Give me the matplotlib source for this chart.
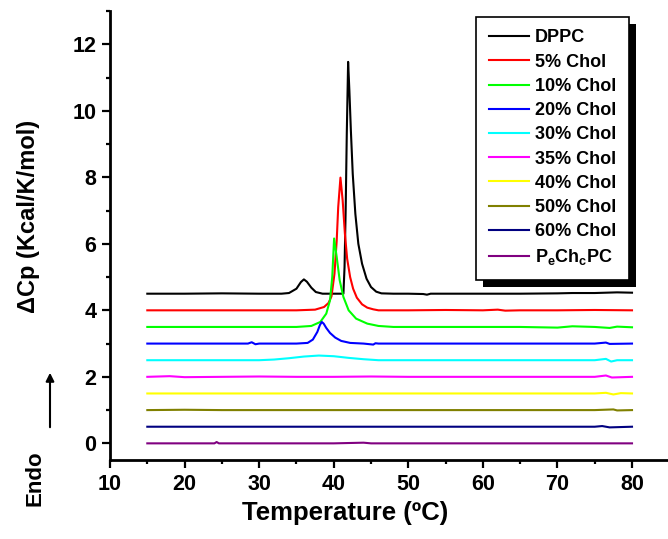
import matplotlib
matplotlib.use("Agg")
import matplotlib.pyplot as plt
from matplotlib.ticker import MultipleLocator
from matplotlib.patches import Rectangle

plt.rcParams['font.family'] = ['Liberation Sans', 'DejaVu Sans']
plt.rcParams['font.weight'] = 'bold'
plt.rcParams['mathtext.fontset'] = 'custom'
plt.rcParams['mathtext.rm'] = 'Liberation Sans:bold'
plt.rcParams['mathtext.bf'] = 'Liberation Sans:bold'

# DSC traces (offsets included)
t_dppc = [15, 20, 25, 30, 33, 34, 35, 35.6, 36.0, 36.4, 37.0, 37.6, 38.5, 40, 41.3, 41.45, 41.6,
          41.75, 41.93, 42.1, 42.3, 42.55, 42.9, 43.3, 43.8, 44.4, 45.0, 45.7, 46.4, 48, 50, 52,
          52.5, 53, 55, 60, 65, 70, 72, 75, 78, 80]
cp_dppc = [4.5, 4.5, 4.51, 4.5, 4.5, 4.52, 4.65, 4.85, 4.93, 4.86, 4.68, 4.55, 4.5, 4.5, 4.5, 5.3, 7.0,
           9.3, 11.47, 10.6, 9.4, 8.1, 6.9, 6.0, 5.4, 4.95, 4.7, 4.56, 4.51, 4.5, 4.5, 4.49,
           4.47, 4.5, 4.5, 4.5, 4.5, 4.51, 4.52, 4.52, 4.54, 4.53]

t_5 = [15, 20, 25, 30, 35, 37.5, 38.7, 39.3, 39.7, 40.1, 40.4, 40.6, 40.9, 41.2, 41.5, 41.8, 42.2,
       42.6, 43.1, 43.8, 44.5, 45.3, 46, 50, 55, 60, 62, 63, 65, 70, 75, 80]
cp_5 = [4.0, 4.0, 4.0, 4.0, 4.0, 4.02, 4.1, 4.22, 4.42, 5.1, 6.1, 7.1, 7.99, 7.3, 6.3, 5.55, 5.0,
        4.65, 4.38, 4.18, 4.08, 4.03, 4.0, 4.0, 4.01, 4.0, 4.02, 3.99, 4.0, 4.0, 4.01, 4.0]

t_10 = [15, 20, 25, 30, 35, 37, 38.2, 39.0, 39.5, 39.8, 40.05, 40.4, 40.8, 41.3, 42.0, 43.0, 44.5,
        46, 48, 55, 60, 65, 70, 72, 75, 77, 78, 80]
cp_10 = [3.5, 3.5, 3.5, 3.5, 3.5, 3.53, 3.65, 3.9, 4.3, 5.0, 6.16, 5.6, 4.9, 4.4, 4.0, 3.75, 3.6,
         3.53, 3.5, 3.5, 3.5, 3.5, 3.48, 3.52, 3.5, 3.47, 3.51, 3.49]

t_20 = [15, 20, 25, 28.5, 29, 29.5, 30, 33, 35, 36.5, 37.2, 37.8, 38.15, 38.4, 38.65, 39.0, 39.5,
        40.2, 41.0, 42.2, 44, 45.3, 45.6, 46, 50, 55, 60, 65, 70, 75, 76.5, 77, 80]
cp_20 = [3.0, 3.0, 3.0, 3.0, 3.04, 2.98, 3.0, 3.0, 3.0, 3.02, 3.12, 3.35, 3.56, 3.65, 3.6, 3.47, 3.32,
         3.18, 3.08, 3.02, 3.0, 2.97, 3.01, 3.0, 3.0, 3.0, 3.0, 3.0, 3.0, 3.0, 3.03, 2.99, 3.0]

t_30 = [15, 20, 25, 30, 32, 34, 36, 38, 40, 42, 44, 46, 50, 55, 60, 65, 70, 75, 76.5, 77.2, 78, 80]
cp_30 = [2.5, 2.5, 2.5, 2.5, 2.52, 2.56, 2.61, 2.64, 2.62, 2.57, 2.53, 2.5, 2.5, 2.5, 2.5, 2.5, 2.5,
         2.5, 2.54, 2.46, 2.5, 2.5]

t_35 = [15, 18, 20, 25, 30, 35, 40, 45, 50, 55, 60, 65, 70, 75, 76.5, 77.3, 80]
cp_35 = [2.0, 2.02, 1.99, 2.0, 2.01, 2.0, 2.0, 2.01, 2.0, 2.0, 2.0, 2.0, 2.0, 2.0, 2.04, 1.98, 2.0]

t_40 = [15, 20, 25, 30, 35, 40, 45, 50, 55, 60, 65, 70, 75, 76.5, 77.5, 78.5, 80]
cp_40 = [1.5, 1.5, 1.5, 1.5, 1.5, 1.5, 1.5, 1.5, 1.5, 1.5, 1.5, 1.5, 1.5, 1.52, 1.47, 1.51, 1.5]

t_50 = [15, 20, 25, 30, 35, 40, 45, 50, 55, 60, 65, 70, 75, 77.5, 78, 80]
cp_50 = [1.0, 1.01, 1.0, 1.0, 1.0, 1.0, 1.0, 1.0, 1.0, 1.0, 1.0, 1.0, 1.0, 1.02, 0.99, 1.0]

t_60 = [15, 20, 25, 30, 35, 40, 45, 50, 55, 60, 65, 70, 75, 76, 77, 80]
cp_60 = [0.5, 0.5, 0.5, 0.5, 0.5, 0.5, 0.5, 0.5, 0.5, 0.5, 0.5, 0.5, 0.5, 0.52, 0.48, 0.5]

t_pc = [15, 20, 24, 24.3, 24.6, 30, 35, 40, 44, 45, 50, 55, 60, 65, 70, 75, 80]
cp_pc = [0.0, 0.0, 0.0, 0.04, 0.0, 0.0, 0.0, 0.0, 0.02, 0.0, 0.0, 0.0, 0.0, 0.0, 0.0, 0.0, 0.0]

labels = ['DPPC', '5% Chol', '10% Chol', '20% Chol', '30% Chol', '35% Chol', '40% Chol',
          '50% Chol', '60% Chol', r'P$_{\mathrm{e}}$Ch$_{\mathrm{c}}$PC']
colors = ['#000000', '#ff0000', '#00ff00', '#0000ff', '#00ffff', '#ff00ff', '#ffff00',
          '#808000', '#000080', '#800080']
temps = [t_dppc, t_5, t_10, t_20, t_30, t_35, t_40, t_50, t_60, t_pc]
cps = [cp_dppc, cp_5, cp_10, cp_20, cp_30, cp_35, cp_40, cp_50, cp_60, cp_pc]

fig = plt.figure(figsize=(6.68, 5.39), dpi=100)
ax = fig.add_axes([0.1647, 0.1466, 0.835, 0.833])

for t, c, lab, col in zip(temps, cps, labels, colors):
    ax.plot(t, c, color=col, lw=1.5, label=lab)

ax.set_xlim(10, 84.8)
ax.set_ylim(-0.5, 13.0)
ax.xaxis.set_major_locator(MultipleLocator(10))
ax.xaxis.set_minor_locator(MultipleLocator(5))
ax.yaxis.set_major_locator(MultipleLocator(2))
ax.yaxis.set_minor_locator(MultipleLocator(1))

ax.spines['top'].set_visible(False)
ax.spines['right'].set_visible(False)
for s in ['left', 'bottom']:
    ax.spines[s].set_linewidth(2)
ax.tick_params(which='major', direction='out', length=6, width=1.6, labelsize=15.5, pad=4)
ax.tick_params(which='minor', direction='out', length=3, width=1.6)
for lab in ax.get_xticklabels() + ax.get_yticklabels():
    lab.set_fontweight('bold')

ax.set_xlabel('Temperature (ºC)', fontsize=18.5, fontweight='bold')
ax.set_ylabel('ΔCp (Kcal/K/mol)', fontsize=17, fontweight='bold')
ax.xaxis.label.set_va('center')
ax.yaxis.label.set_va('center')
ax.xaxis.set_label_coords(0.422, -0.118)
ax.yaxis.set_label_coords(-0.147, 0.543)

# Endo arrow
fig.text(35 / 668, 1 - 478 / 539, 'Endo', rotation=90, fontsize=16, fontweight='bold',
         ha='center', va='center')
ax.annotate('', xy=(50 / 668, 1 - 370 / 539), xytext=(50 / 668, 1 - 430 / 539),
            xycoords='figure fraction', textcoords='figure fraction',
            arrowprops=dict(arrowstyle='-|>', color='k', lw=1.5, mutation_scale=12))

leg = ax.legend(loc='upper right', bbox_to_anchor=(0.930, 0.987), borderaxespad=0,
                fontsize=13, frameon=True, fancybox=False, framealpha=1,
                edgecolor='k', handlelength=2.2, handletextpad=0.35, labelspacing=0.4,
                borderpad=0.7)
leg.get_frame().set_linewidth(1.2)
for txt in leg.get_texts():
    txt.set_fontweight('bold')

fig.canvas.draw()
bb = leg.get_window_extent()
inv = fig.transFigure.inverted()
(x0, y0) = inv.transform((bb.x0 + 7, bb.y0 - 7))
(x1, y1) = inv.transform((bb.x1 + 7, bb.y1 - 7))
shadow = Rectangle((x0, y0), x1 - x0, y1 - y0, transform=fig.transFigure,
                   facecolor='k', edgecolor='none', zorder=4.9, clip_on=False)
ax.add_artist(shadow)

fig.savefig('out.png', dpi=100)
